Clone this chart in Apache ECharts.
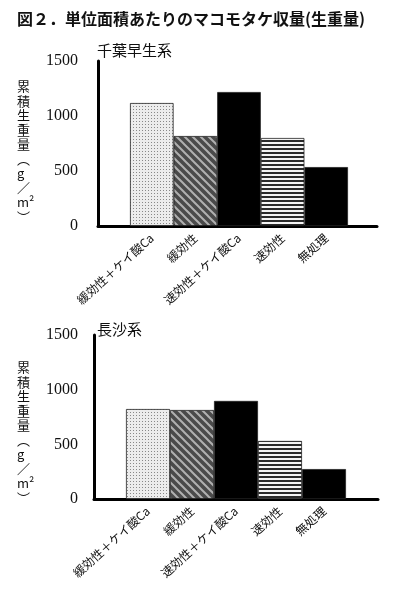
<!DOCTYPE html>
<html>
<head>
<meta charset="utf-8">
<script src="https://cdn.jsdelivr.net/npm/echarts@6/dist/echarts.min.js"></script>
<style>
  html, body { margin: 0; padding: 0; background: #fff; }
  #chart { width: 399px; height: 600px; }
</style>
</head>
<body>
<div id="chart"></div>
<script>
// データ
const categories = ['緩効性＋ケイ酸Ca', '緩効性', '速効性＋ケイ酸Ca', '速効性', '無処理']
const chibaValues = [1118, 818, 1218, 800, 536]
const chosaValues = [823, 814, 897, 531, 274]
const yTicks = [0, 500, 1000, 1500]

// 模様を作る
const makePattern = (w, h, draw) => {
  const c = document.createElement('canvas')
  c.width = w
  c.height = h
  draw(c.getContext('2d'), w, h)
  return { image: c, repeat: 'repeat' }
}

const dotted = makePattern(3, 3, (ctx) => {
  ctx.fillStyle = '#ececec'
  ctx.fillRect(0, 0, 3, 3)
  ctx.fillStyle = '#888'
  ctx.fillRect(1, 1, 1, 1)
})

const diagonal = makePattern(8, 8, (ctx) => {
  ctx.fillStyle = '#4a4a4a'
  ctx.fillRect(0, 0, 8, 8)
  ctx.strokeStyle = '#b0b0b0'
  ctx.lineWidth = 2
  ctx.beginPath()
  ctx.moveTo(-2, -2); ctx.lineTo(10, 10)
  ctx.moveTo(-6, 2); ctx.lineTo(2, 10)
  ctx.moveTo(2, -6); ctx.lineTo(10, 2)
  ctx.stroke()
})

const horizontal = makePattern(4, 4, (ctx) => {
  ctx.fillStyle = '#f4f4f4'
  ctx.fillRect(0, 0, 4, 4)
  ctx.fillStyle = '#2a2a2a'
  ctx.fillRect(0, 0, 4, 2)
})

const fills = [dotted, diagonal, '#000', horizontal, '#000']

const serif = '"Liberation Serif", "DejaVu Serif", serif'
const jp = '"Noto Sans CJK JP", sans-serif'
const vLabel = ['累', '積', '生', '重', '量', '︵', 'g', '／', 'm²', '︶'].join('\n')

// 1つのパネル（枠のグリッド + 棒のグリッド）
const buildPanel = (values, frame, bars, gi) => {
  const grids = [
    { left: frame.left, right: frame.right, top: frame.top, height: frame.height },
    { left: bars.left, right: bars.right, top: frame.top, height: frame.height }
  ]
  const xAxes = [
    {
      gridIndex: gi, type: 'value', min: 0, max: 1,
      axisLine: { show: true, lineStyle: { color: '#000', width: 3 } },
      axisTick: { show: false }, axisLabel: { show: false }, splitLine: { show: false }
    },
    {
      gridIndex: gi + 1, type: 'category', data: categories,
      axisLine: { show: false }, axisTick: { show: false },
      axisLabel: { rotate: 42, margin: 10, fontSize: 12, color: '#111', fontFamily: jp, interval: 0 }
    }
  ]
  const yAxes = [
    {
      gridIndex: gi, type: 'value', min: 0, max: yTicks[yTicks.length - 1], interval: 500,
      axisLine: { show: true, lineStyle: { color: '#000', width: 3 } },
      axisTick: { show: false }, splitLine: { show: false },
      axisLabel: { margin: frame.labelMargin, fontSize: 16, color: '#111', fontFamily: serif, formatter: (v) => String(v) }
    },
    {
      gridIndex: gi + 1, type: 'value', min: 0, max: yTicks[yTicks.length - 1], show: false
    }
  ]
  const series = [{
    type: 'bar',
    xAxisIndex: gi + 1,
    yAxisIndex: gi + 1,
    barWidth: '100%',
    data: values.map((v, i) => ({
      value: v,
      itemStyle: { color: fills[i], borderColor: '#222', borderWidth: 0.8 }
    }))
  }]
  return { grids, xAxes, yAxes, series }
}

const topPanel = buildPanel(chibaValues,
  { left: 98, right: 22, top: 61, height: 165, labelMargin: 20 },
  { left: 130, right: 51 }, 0)
const bottomPanel = buildPanel(chosaValues,
  { left: 94, right: 21, top: 335, height: 164, labelMargin: 16 },
  { left: 126, right: 53 }, 2)

const chart = echarts.init(document.getElementById('chart'))
chart.setOption({
  animation: false,
  title: [
    {
      text: '図２．単位面積あたりのマコモタケ収量(生重量)',
      left: 12, top: 6,
      textStyle: { fontSize: 16, fontWeight: 'bold', color: '#111', fontFamily: jp }
    },
    { text: '千葉早生系', left: 92, top: 38, textStyle: { fontSize: 15, fontWeight: 'normal', color: '#111', fontFamily: jp } },
    { text: '長沙系', left: 92, top: 317, textStyle: { fontSize: 15, fontWeight: 'normal', color: '#111', fontFamily: jp } },
    { text: vLabel, left: 12, top: 74, textStyle: { fontSize: 13, lineHeight: 14.5, fontWeight: 'normal', color: '#111', fontFamily: jp } },
    { text: vLabel, left: 12, top: 355, textStyle: { fontSize: 13, lineHeight: 14.5, fontWeight: 'normal', color: '#111', fontFamily: jp } }
  ],
  grid: [...topPanel.grids, ...bottomPanel.grids],
  xAxis: [...topPanel.xAxes, ...bottomPanel.xAxes],
  yAxis: [...topPanel.yAxes, ...bottomPanel.yAxes],
  series: [...topPanel.series, ...bottomPanel.series]
})
</script>
</body>
</html>
